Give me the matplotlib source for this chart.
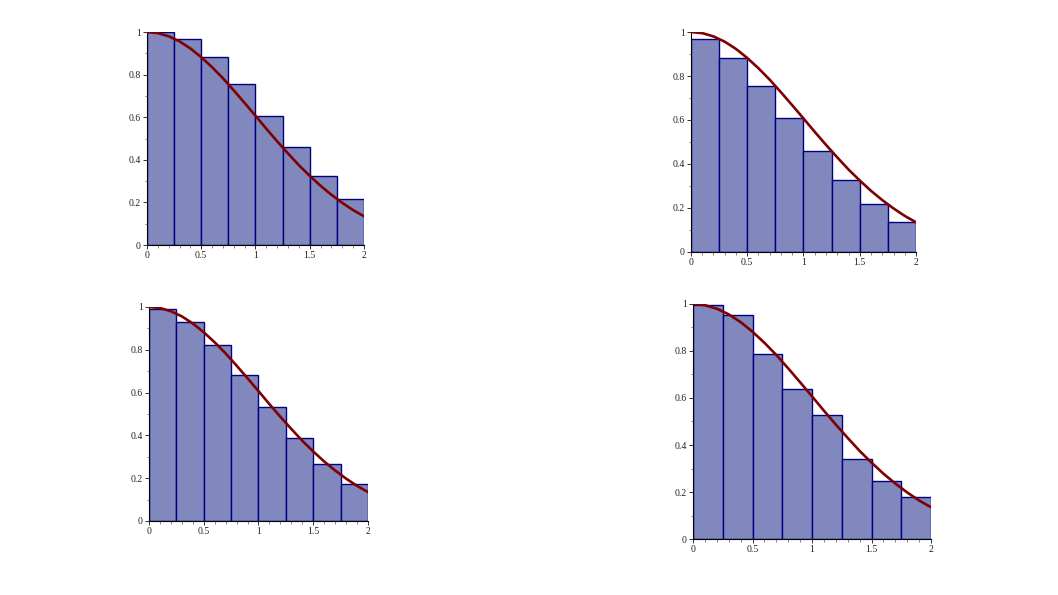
import numpy as np
import matplotlib.pyplot as plt
from matplotlib.ticker import MultipleLocator, FormatStrFormatter

# bar left edges (width 0.25)
edges = [0.0, 0.25, 0.5, 0.75, 1.0, 1.25, 1.5, 1.75]

# bar heights
left_sum = [1.0, 0.969, 0.882, 0.755, 0.607, 0.458, 0.325, 0.216]
right_sum = [0.969, 0.882, 0.755, 0.607, 0.458, 0.325, 0.216, 0.135]
mid_sum = [0.992, 0.932, 0.823, 0.682, 0.531, 0.389, 0.267, 0.172]
rand_sum = [0.997, 0.954, 0.789, 0.637, 0.527, 0.342, 0.246, 0.178]

# curve read at steps of 0.1
curve_x = [0.0, 0.1, 0.2, 0.3, 0.4, 0.5, 0.6, 0.7, 0.8, 0.9, 1.0,
           1.1, 1.2, 1.3, 1.4, 1.5, 1.6, 1.7, 1.8, 1.9, 2.0]
curve_y = [1.0, 0.995, 0.980, 0.956, 0.923, 0.882, 0.835, 0.783, 0.726, 0.667, 0.607,
           0.546, 0.487, 0.430, 0.375, 0.325, 0.278, 0.236, 0.198, 0.164, 0.135]

fig = plt.figure(figsize=(10.58, 5.95), dpi=100)

panels = [
    (left_sum, [0.1389, 0.5882, 0.2051, 0.3580]),
    (right_sum, [0.6531, 0.5765, 0.2127, 0.3697]),
    (mid_sum, [0.1408, 0.1244, 0.2070, 0.3597]),
    (rand_sum, [0.6550, 0.0941, 0.2250, 0.3950]),
]

for heights, pos in panels:
    ax = fig.add_axes(pos)
    ax.bar(edges, heights, width=0.25, align="edge",
           color="#8088be", edgecolor="#000080", linewidth=1.0, zorder=2)
    ax.plot(curve_x, curve_y, color="#800000", linewidth=1.9, zorder=3)

    ax.set_xlim(0, 2)
    ax.set_ylim(0, 1)
    ax.spines["top"].set_visible(False)
    ax.spines["right"].set_visible(False)
    ax.spines["left"].set_linewidth(0.8)
    ax.spines["bottom"].set_linewidth(0.8)

    ax.xaxis.set_major_locator(MultipleLocator(0.5))
    ax.xaxis.set_minor_locator(MultipleLocator(0.1))
    ax.yaxis.set_major_locator(MultipleLocator(0.2))
    ax.yaxis.set_minor_locator(MultipleLocator(0.1))
    ax.xaxis.set_major_formatter(FormatStrFormatter("%g"))
    ax.yaxis.set_major_formatter(FormatStrFormatter("%g"))
    ax.tick_params(which="major", length=3, width=0.7, pad=1.5, color="#333333",
                   labelsize=7, labelcolor="#222222", labelfontfamily="Liberation Serif")
    ax.tick_params(which="minor", length=1.8, width=0.5, color="#555555")

fig.savefig("out.png", dpi=100)
